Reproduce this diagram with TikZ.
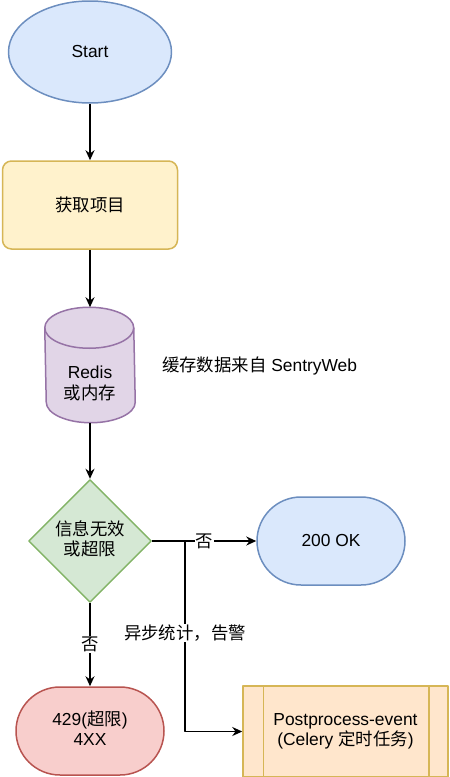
\documentclass[tikz,border=0pt]{standalone}
\usepackage{fontspec}
\setmainfont{Liberation Sans}
\newfontfamily\cjk{Noto Sans CJK SC}
\usetikzlibrary{arrows.meta,shapes.geometric}
\definecolor{bluefill}{HTML}{DAE8FC}
\definecolor{bluestroke}{HTML}{6C8EBF}
\definecolor{yellowfill}{HTML}{FFF2CC}
\definecolor{yellowstroke}{HTML}{D6B656}
\definecolor{purplefill}{HTML}{E1D5E7}
\definecolor{purplestroke}{HTML}{9673A6}
\definecolor{greenfill}{HTML}{D5E8D4}
\definecolor{greenstroke}{HTML}{82B366}
\definecolor{redfill}{HTML}{F8CECC}
\definecolor{redstroke}{HTML}{B85450}
\definecolor{orangefill}{HTML}{FFE6CC}
\begin{document}
\begin{tikzpicture}[>={Stealth[length=10bp,width=9bp]},line join=bevel,
  every node/.style={font=\fontsize{17.4bp}{20bp}\selectfont},
  box/.style={draw,line width=1.5bp,inner sep=0pt}]
  \pgfsetlinewidth{1.5bp}
  \useasboundingbox (0bp,0bp) rectangle (450bp,-777bp);
%%
  % Node: start
  \node[box,ellipse,fill=bluefill,draw=bluestroke,minimum width=163bp,minimum height=102bp] (start) at (90bp,-52bp) {Start};
  % Node: fetch
  \node[box,rounded corners=9bp,fill=yellowfill,draw=yellowstroke,minimum width=175bp,minimum height=88bp] (fetch) at (90bp,-205bp) {\cjk 获取项目};
  % Node: redis
  \node[inner sep=0pt,minimum width=89bp,minimum height=114bp] (redis) at (90bp,-365bp) {};
  \filldraw[fill=purplefill,draw=purplestroke,line width=1.5bp] ([yshift=-20.5bp]redis.north west) arc[start angle=180,end angle=0,x radius=44.5bp,y radius=20.5bp] -- ([yshift=20.5bp]redis.south east) arc[start angle=0,end angle=-180,x radius=44.5bp,y radius=20.5bp] -- cycle;
  \draw[purplestroke,line width=1.5bp] ([yshift=-20.5bp]redis.north west) arc[start angle=180,end angle=360,x radius=44.5bp,y radius=20.5bp];
  \node (redistext) at (90bp,-385bp) {\begin{tabular}{c}
            Redis \\ {\cjk 或内存}
            \end{tabular}};
  % Node: source
  \node[anchor=west] (source) at (158bp,-366bp) {{\cjk 缓存数据来自} SentryWeb};
  % Node: check
  \node[box,diamond,aspect=1,fill=greenfill,draw=greenstroke,minimum width=118bp,minimum height=117bp] (check) at (90bp,-541bp) {\begin{tabular}{c}
            \cjk 信息无效 \\ \cjk 或超限
            \end{tabular}};
  % Node: ok
  \node[box,rounded corners=44bp,fill=bluefill,draw=bluestroke,minimum width=148bp,minimum height=88bp] (ok) at (331bp,-541bp) {200 OK};
  % Node: limit
  \node[box,rounded corners=44bp,fill=redfill,draw=redstroke,minimum width=148bp,minimum height=88bp] (limit) at (90bp,-731bp) {\begin{tabular}{c}
            429({\cjk 超限}) \\ 4XX
            \end{tabular}};
  % Node: post
  \node[box,fill=orangefill,draw=yellowstroke,minimum width=205bp,minimum height=91bp] (post) at (345.5bp,-731.5bp) {\begin{tabular}{c}
            Postprocess-event \\ (Celery {\cjk 定时任务})
            \end{tabular}};
  \draw[yellowstroke] ([xshift=21bp]post.north west) -- ([xshift=21bp]post.south west);
  \draw[yellowstroke] ([xshift=-20bp]post.north east) -- ([xshift=-20bp]post.south east);
%%
  \coordinate (split) at (185bp,-541bp);
  % Edge: start -> fetch
  \draw [->] (start) -- (fetch);
  % Edge: fetch -> redis
  \draw [->] (fetch) -- (redis);
  % Edge: redis -> check
  \draw [->] (redis) -- (check);
  % Edge: check -> ok
  \draw [->] (check) -- node[fill=white,inner sep=1bp] (no1) {\cjk 否} (ok);
  % Edge: check -> limit
  \draw [->] (check) -- node[fill=white,inner sep=1bp] (no2) {\cjk 否} (limit);
  % Edge: check -> post
  \draw [->] (split) |- node[pos=0.242,fill=white,inner sep=1bp] (async) {\cjk 异步统计，告警} (post);
%
\end{tikzpicture}
\end{document}
